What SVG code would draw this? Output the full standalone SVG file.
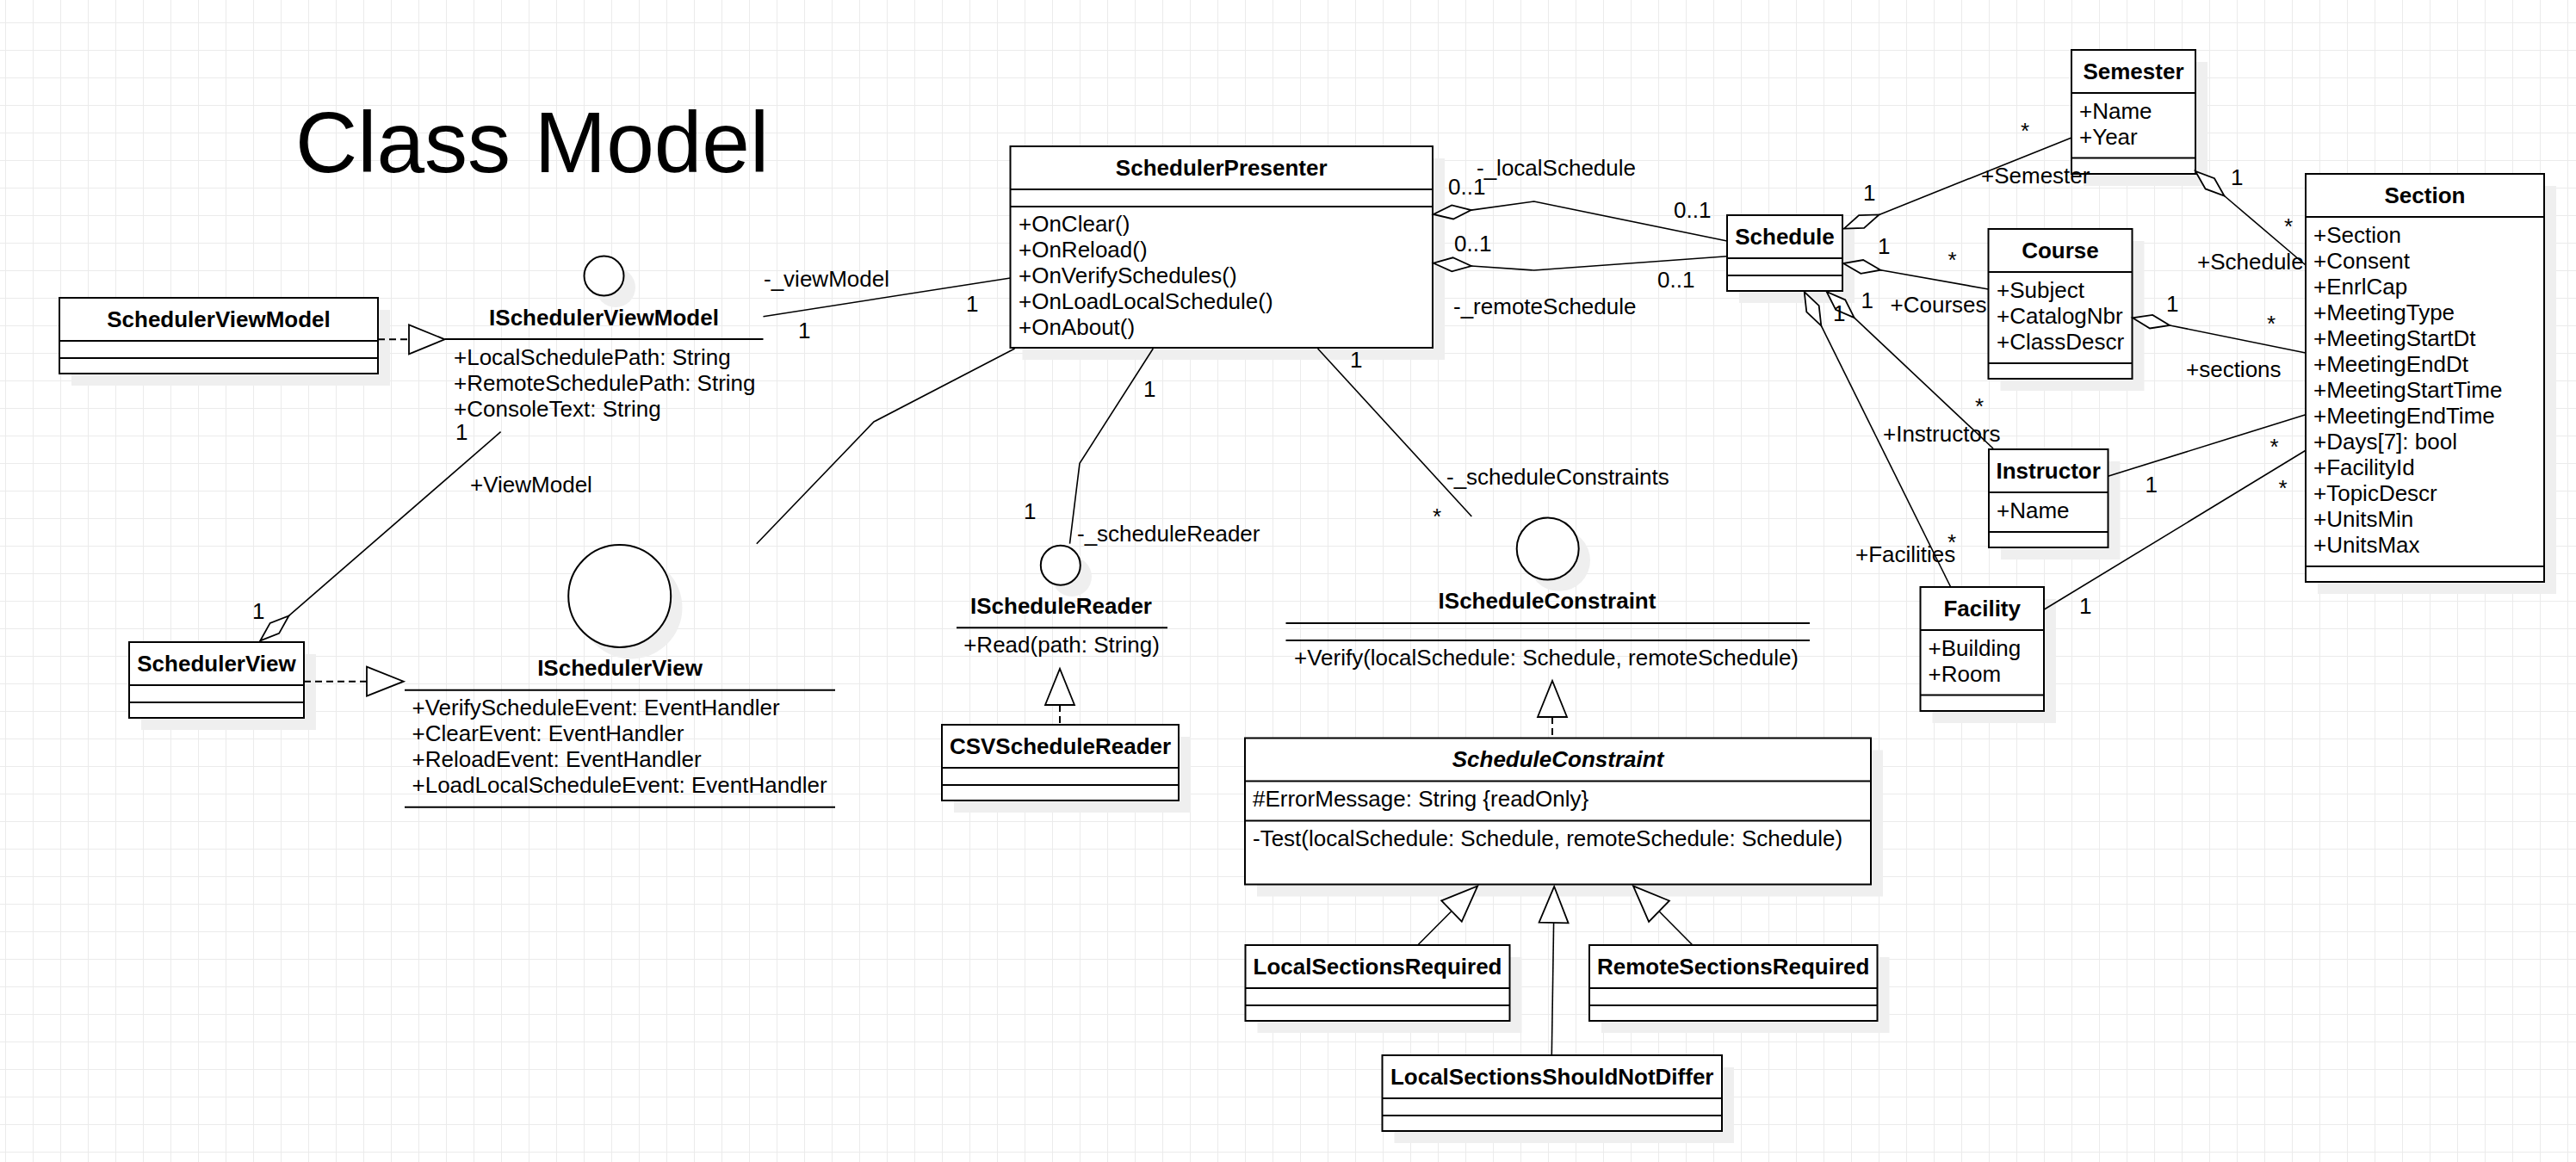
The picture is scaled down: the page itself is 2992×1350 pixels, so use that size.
<svg xmlns="http://www.w3.org/2000/svg" width="2992" height="1350" viewBox="0 0 2992 1350">
  <defs>
    <pattern id="grid" x="6" y="26" width="32" height="32" patternUnits="userSpaceOnUse">
      <rect x="0" y="0" width="1" height="32" fill="#ebebeb"/>
      <rect x="0" y="0" width="32" height="1" fill="#ebebeb"/>
    </pattern>
  </defs>
  <style>
    .t { font-family: "Liberation Sans", Arial, sans-serif; font-size: 26px; fill: #000; }
    .b { font-weight: bold; text-anchor: middle; }
    .c { text-anchor: middle; }
    .i { font-style: italic; }
    .box { fill: #fff; stroke: #000; stroke-width: 2; }
    .sh { fill: #efefef; }
    .ln { stroke: #000; stroke-width: 2; fill: none; }
    .conn { fill: none; stroke: #000; stroke-width: 1.6; }
    .dash { stroke-dasharray: 8 5; stroke-width: 2; }
    .head { fill: #fff; stroke: #000; stroke-width: 1.8; }
    .ico { fill: #fff; stroke: #000; stroke-width: 2; }
  </style>

  <rect width="2992" height="1350" fill="#fff"/>
  <rect width="2992" height="1350" fill="url(#grid)"/>

  <text x="343" y="200" font-family="Liberation Sans, Arial, sans-serif" font-size="100">Class Model</text>

  <!-- classes -->
  <g id="SchedulerViewModel">
    <rect class="sh" x="83" y="360" width="370" height="88"/>
    <rect class="box" x="69" y="346" width="370" height="88"/>
    <path class="ln" d="M69 396H439M69 416H439"/>
    <text class="t b" x="254" y="379.5">SchedulerViewModel</text>
  </g>

  <g id="ISchedulerViewModel">
    <circle class="sh" cx="715" cy="334" r="23"/>
    <circle class="ico" cx="701.5" cy="320.5" r="23"/>
    <text class="t b" x="701.5" y="377.7">ISchedulerViewModel</text>
    <path class="ln" d="M516.6 394H886.5"/>
    <text class="t" x="527" y="423.5">+LocalSchedulePath: String</text>
    <text class="t" x="527" y="453.5">+RemoteSchedulePath: String</text>
    <text class="t" x="527" y="483.5">+ConsoleText: String</text>
  </g>

  <g id="SchedulerView">
    <rect class="sh" x="164" y="760" width="203" height="88"/>
    <rect class="box" x="150" y="746" width="203" height="88"/>
    <path class="ln" d="M150 796H353M150 816H353"/>
    <text class="t b" x="251.5" y="779.5">SchedulerView</text>
  </g>

  <g id="ISchedulerView">
    <circle class="sh" cx="733" cy="706" r="59.5"/>
    <circle class="ico" cx="719.7" cy="692.5" r="59.5"/>
    <text class="t b" x="720" y="785">ISchedulerView</text>
    <path class="ln" d="M470 801.7H970M470 937.7H970"/>
    <text class="t" x="478.5" y="831">+VerifyScheduleEvent: EventHandler</text>
    <text class="t" x="478.5" y="861">+ClearEvent: EventHandler</text>
    <text class="t" x="478.5" y="891">+ReloadEvent: EventHandler</text>
    <text class="t" x="478.5" y="921">+LoadLocalScheduleEvent: EventHandler</text>
  </g>

  <g id="SchedulerPresenter">
    <rect class="sh" x="1187.5" y="184" width="490.5" height="234"/>
    <rect class="box" x="1173.5" y="170" width="490.5" height="234"/>
    <path class="ln" d="M1173.5 220H1664M1173.5 240H1664"/>
    <text class="t b" x="1418.7" y="203.5">SchedulerPresenter</text>
    <text class="t" x="1183" y="268.5">+OnClear()</text>
    <text class="t" x="1183" y="298.5">+OnReload()</text>
    <text class="t" x="1183" y="328.5">+OnVerifySchedules()</text>
    <text class="t" x="1183" y="358.5">+OnLoadLocalSchedule()</text>
    <text class="t" x="1183" y="388.5">+OnAbout()</text>
  </g>

  <g id="IScheduleReader">
    <circle class="sh" cx="1245" cy="670" r="23"/>
    <circle class="ico" cx="1231.8" cy="656.7" r="23"/>
    <text class="t b" x="1232.5" y="713.3">IScheduleReader</text>
    <path class="ln" d="M1111 729.3H1356"/>
    <text class="t c" x="1233" y="758.3">+Read(path: String)</text>
  </g>

  <g id="CSVScheduleReader">
    <rect class="sh" x="1108" y="856" width="275" height="88"/>
    <rect class="box" x="1094" y="842" width="275" height="88"/>
    <path class="ln" d="M1094 892H1369M1094 912H1369"/>
    <text class="t b" x="1231.5" y="875.5">CSVScheduleReader</text>
  </g>

  <g id="IScheduleConstraint">
    <circle class="sh" cx="1811" cy="651" r="36"/>
    <circle class="ico" cx="1797.7" cy="637.5" r="36"/>
    <text class="t b" x="1797" y="706.7">IScheduleConstraint</text>
    <path class="ln" d="M1493.5 724H2102M1493.5 744H2102"/>
    <text class="t c" x="1796" y="772.7">+Verify(localSchedule: Schedule, remoteSchedule)</text>
  </g>

  <g id="ScheduleConstraint">
    <rect class="sh" x="1460" y="871.5" width="727" height="170"/>
    <rect class="box" x="1446" y="857.5" width="727" height="170"/>
    <path class="ln" d="M1446 907.5H2173M1446 953.5H2173"/>
    <text class="t b i" x="1809.5" y="891">ScheduleConstraint</text>
    <text class="t" x="1455" y="937">#ErrorMessage: String {readOnly}</text>
    <text class="t" x="1455" y="983">-Test(localSchedule: Schedule, remoteSchedule: Schedule)</text>
  </g>

  <g id="LocalSectionsRequired">
    <rect class="sh" x="1460.5" y="1112" width="307" height="88"/>
    <rect class="box" x="1446.5" y="1098" width="307" height="88"/>
    <path class="ln" d="M1446.5 1148H1753.5M1446.5 1168H1753.5"/>
    <text class="t b" x="1600" y="1131.5">LocalSectionsRequired</text>
  </g>

  <g id="RemoteSectionsRequired">
    <rect class="sh" x="1860" y="1112" width="334.5" height="88"/>
    <rect class="box" x="1846" y="1098" width="334.5" height="88"/>
    <path class="ln" d="M1846 1148H2180.5M1846 1168H2180.5"/>
    <text class="t b" x="2013.2" y="1131.5">RemoteSectionsRequired</text>
  </g>

  <g id="LocalSectionsShouldNotDiffer">
    <rect class="sh" x="1619.5" y="1240" width="394.5" height="88"/>
    <rect class="box" x="1605.5" y="1226" width="394.5" height="88"/>
    <path class="ln" d="M1605.5 1276H2000M1605.5 1296H2000"/>
    <text class="t b" x="1802.7" y="1259.5">LocalSectionsShouldNotDiffer</text>
  </g>

  <g id="Schedule">
    <rect class="sh" x="2020" y="264" width="134" height="88"/>
    <rect class="box" x="2006" y="250" width="134" height="88"/>
    <path class="ln" d="M2006 300H2140M2006 320H2140"/>
    <text class="t b" x="2073" y="283.5">Schedule</text>
  </g>

  <g id="Semester">
    <rect class="sh" x="2420" y="72" width="144" height="144"/>
    <rect class="box" x="2406" y="58" width="144" height="144"/>
    <path class="ln" d="M2406 108H2550M2406 183.5H2550"/>
    <text class="t b" x="2478" y="91.5">Semester</text>
    <text class="t" x="2415" y="137.5">+Name</text>
    <text class="t" x="2415" y="167.5">+Year</text>
  </g>

  <g id="Course">
    <rect class="sh" x="2323.5" y="280" width="167" height="174"/>
    <rect class="box" x="2309.5" y="266" width="167" height="174"/>
    <path class="ln" d="M2309.5 316H2476.5M2309.5 422H2476.5"/>
    <text class="t b" x="2393" y="299.5">Course</text>
    <text class="t" x="2319" y="345.5">+Subject</text>
    <text class="t" x="2319" y="375.5">+CatalogNbr</text>
    <text class="t" x="2319" y="405.5">+ClassDescr</text>
  </g>

  <g id="Section">
    <rect class="sh" x="2692" y="216" width="277" height="474"/>
    <rect class="box" x="2678" y="202" width="277" height="474"/>
    <path class="ln" d="M2678 252H2955M2678 658H2955"/>
    <text class="t b" x="2816.5" y="235.5">Section</text>
    <text class="t" x="2687" y="281.5">+Section</text>
    <text class="t" x="2687" y="311.5">+Consent</text>
    <text class="t" x="2687" y="341.5">+EnrlCap</text>
    <text class="t" x="2687" y="371.5">+MeetingType</text>
    <text class="t" x="2687" y="401.5">+MeetingStartDt</text>
    <text class="t" x="2687" y="431.5">+MeetingEndDt</text>
    <text class="t" x="2687" y="461.5">+MeetingStartTime</text>
    <text class="t" x="2687" y="491.5">+MeetingEndTime</text>
    <text class="t" x="2687" y="521.5">+Days[7]: bool</text>
    <text class="t" x="2687" y="551.5">+FacilityId</text>
    <text class="t" x="2687" y="581.5">+TopicDescr</text>
    <text class="t" x="2687" y="611.5">+UnitsMin</text>
    <text class="t" x="2687" y="641.5">+UnitsMax</text>
  </g>

  <g id="Instructor">
    <rect class="sh" x="2324" y="536" width="138.5" height="114"/>
    <rect class="box" x="2310" y="522" width="138.5" height="114"/>
    <path class="ln" d="M2310 572H2448.5M2310 618H2448.5"/>
    <text class="t b" x="2379.2" y="555.5">Instructor</text>
    <text class="t" x="2319" y="601.5">+Name</text>
  </g>

  <g id="Facility">
    <rect class="sh" x="2244.5" y="696" width="143.5" height="144"/>
    <rect class="box" x="2230.5" y="682" width="143.5" height="144"/>
    <path class="ln" d="M2230.5 732H2374M2230.5 807.5H2374"/>
    <text class="t b" x="2302.2" y="715.5">Facility</text>
    <text class="t" x="2239.5" y="761.5">+Building</text>
    <text class="t" x="2239.5" y="791.5">+Room</text>
  </g>

  <!-- connectors -->
  <g id="connectors">
    <!-- realizations -->
    <path class="conn dash" d="M439 394.3H475"/>
    <polygon class="head" points="475,377.3 475,411.3 516.6,394.3"/>
    <path class="conn dash" d="M353 791.7H426"/>
    <polygon class="head" points="426,774.7 426,808.7 468.8,791.7"/>
    <path class="conn dash" d="M1231 819V842"/>
    <polygon class="head" points="1214,819 1248,819 1231,777"/>
    <path class="conn dash" d="M1803 833V857.5"/>
    <polygon class="head" points="1786,833 1820,833 1803,791"/>

    <!-- generalizations -->
    <path class="conn" d="M1646.7 1098L1686 1058.5"/>
    <polygon class="head" points="1716.2,1029.3 1697.8,1070.7 1674.2,1046.3"/>
    <path class="conn" d="M1802.3 1226L1804.6 1072"/>
    <polygon class="head" points="1805.2,1030 1821.6,1072.3 1787.6,1071.7"/>
    <path class="conn" d="M1965.9 1098L1927 1058.7"/>
    <polygon class="head" points="1897,1029.3 1938.9,1046.5 1915.1,1070.9"/>

    <!-- presenter associations -->
    <path class="conn" d="M886.5 367.7L1173.5 323"/>
    <path class="conn" d="M1178.6 405L1015 490L878.8 631.7"/>
    <path class="conn" d="M1339.3 405L1254 538.3L1242.5 631.7"/>
    <path class="conn" d="M1530.6 405L1709.3 600"/>
    <path class="conn" d="M1708.7 244.1L1781.7 234L2006 280"/>
    <polygon class="head" points="1665,249 1688,254.5 1708.7,244.1 1686.2,238.5"/>
    <path class="conn" d="M1708.9 309L1781.7 314L2006 297.7"/>
    <polygon class="head" points="1665,305.7 1686.3,315.3 1708.9,309 1687.5,299.3"/>

    <!-- view model aggregation -->
    <path class="conn" d="M335.5 715.4L581.6 501.7"/>
    <polygon class="head" points="302.3,744.3 324.1,735.9 335.5,715.4 313.7,723.9"/>

    <!-- schedule aggregations -->
    <path class="conn" d="M2182.6 249.4L2406 160"/>
    <polygon class="head" points="2141.7,265.7 2165.1,264.9 2182.6,249.4 2159.1,250.1"/>
    <path class="conn" d="M2184.3 313.7L2309.5 336"/>
    <polygon class="head" points="2141,306 2161.3,317.8 2184.3,313.7 2164.1,302"/>
    <path class="conn" d="M2153.7 369.2L2315 521"/>
    <polygon class="head" points="2121.7,339 2132.2,359.9 2153.7,369.2 2143.2,348.3"/>
    <path class="conn" d="M2115.3 378.4L2265.7 682"/>
    <polygon class="head" points="2095.7,339 2098.3,362.3 2115.3,378.4 2112.7,355.1"/>

    <!-- section associations -->
    <path class="conn" d="M2583.5 227.5L2678 308"/>
    <polygon class="head" points="2550,199 2561.6,219.4 2583.5,227.5 2572,207.2"/>
    <path class="conn" d="M2520.1 378L2678 410"/>
    <polygon class="head" points="2477,369.3 2497,381.5 2520.1,378 2500.2,365.9"/>
    <path class="conn" d="M2448.5 553.3L2678 481.7"/>
    <path class="conn" d="M2374 708.3L2678 523.3"/>

    <!-- role names and multiplicities -->
    <text class="t" x="887" y="333.3">-_viewModel</text>
    <text class="t" x="927" y="393">1</text>
    <text class="t" x="1122" y="361.7">1</text>
    <text class="t" x="529" y="511">1</text>
    <text class="t" x="546" y="571.7">+ViewModel</text>
    <text class="t" x="293" y="719.3">1</text>
    <text class="t" x="1328" y="461">1</text>
    <text class="t" x="1189" y="603.3">1</text>
    <text class="t" x="1251" y="629">-_scheduleReader</text>
    <text class="t" x="1568" y="427.3">1</text>
    <text class="t" x="1664" y="609">*</text>
    <text class="t" x="1680" y="563.3">-_scheduleConstraints</text>
    <text class="t" x="1682" y="226">0..1</text>
    <text class="t" x="1715" y="204">-_localSchedule</text>
    <text class="t" x="1944" y="253.3">0..1</text>
    <text class="t" x="1689" y="291.7">0..1</text>
    <text class="t" x="1925" y="334">0..1</text>
    <text class="t" x="1688" y="365">-_remoteSchedule</text>
    <text class="t" x="2347" y="161">*</text>
    <text class="t" x="2301" y="213.3">+Semester</text>
    <text class="t" x="2164" y="233.3">1</text>
    <text class="t" x="2591" y="215">1</text>
    <text class="t" x="2653" y="272">*</text>
    <text class="t" x="2552" y="313.3">+Schedule</text>
    <text class="t" x="2181" y="295">1</text>
    <text class="t" x="2262.5" y="311">*</text>
    <text class="t" x="2195.5" y="363.3">+Courses</text>
    <text class="t" x="2516" y="361.7">1</text>
    <text class="t" x="2633" y="384.6">*</text>
    <text class="t" x="2539" y="438.3">+sections</text>
    <text class="t" x="2161.5" y="357.7">1</text>
    <text class="t" x="2129" y="373.3">1</text>
    <text class="t" x="2294" y="481">*</text>
    <text class="t" x="2187" y="513.3">+Instructors</text>
    <text class="t" x="2262" y="638.6">*</text>
    <text class="t" x="2155" y="653.3">+Facilities</text>
    <text class="t" x="2491.5" y="571.7">1</text>
    <text class="t" x="2636.5" y="527.7">*</text>
    <text class="t" x="2415" y="713.3">1</text>
    <text class="t" x="2646.5" y="575.7">*</text>
  </g>
</svg>
